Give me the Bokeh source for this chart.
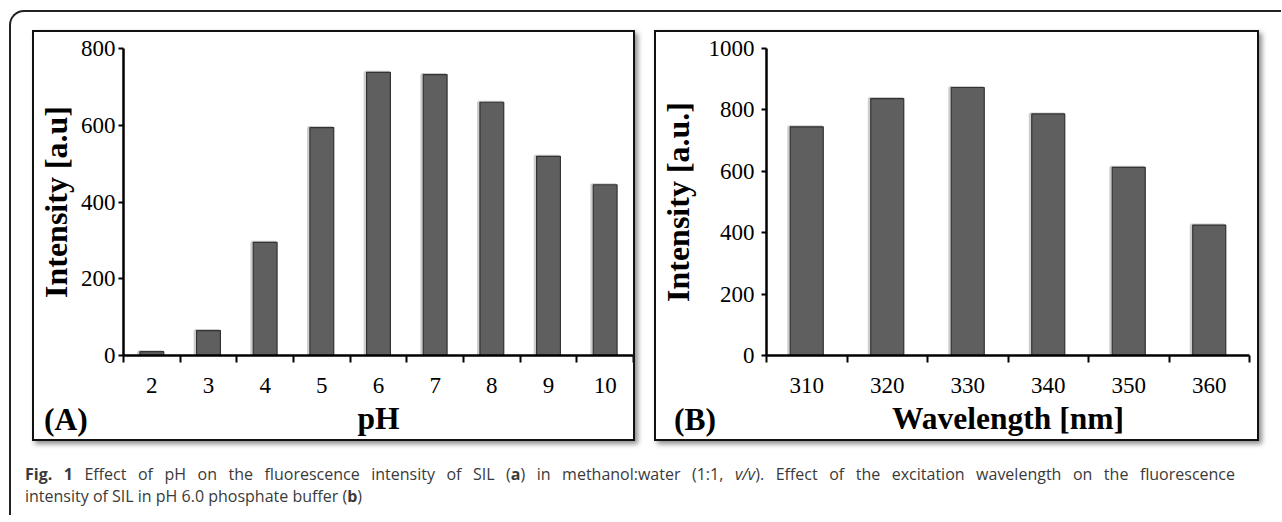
from bokeh.plotting import figure
from bokeh.models import Range1d, FixedTicker, Div, ColumnDataSource
from bokeh.transform import dodge
from bokeh.layouts import row, column
from bokeh.embed import file_html
from bokeh.resources import INLINE

# ---- data ----
ph = [2, 3, 4, 5, 6, 7, 8, 9, 10]
intensity_ph = [10, 65, 295, 594, 738, 732, 660, 519, 445]
ph_ticks = [0, 200, 400, 600, 800]

wavelength = [310, 320, 330, 340, 350, 360]
intensity_wl = [745, 837, 873, 787, 613, 425]
wl_ticks = [0, 200, 400, 600, 800, 1000]

SERIF = "Liberation Serif"
BAR_FILL = "#5f5f5f"
BAR_LINE = "#333333"
PANEL_STYLE = {"border": "2px solid #111111",
               "box-shadow": "3px 3px 5px rgba(0,0,0,0.45)"}


def style_axes(p, xticks, xminor, yticks, ylab_standoff, ytitle_standoff):
    xa = p.xaxis[0]
    xa.ticker = FixedTicker(ticks=xticks, minor_ticks=xminor)
    xa.major_tick_line_color = None
    xa.major_tick_out = 0
    xa.major_tick_in = 0
    xa.minor_tick_out = 7
    xa.minor_tick_in = 0
    xa.minor_tick_line_color = "black"
    xa.minor_tick_line_width = 2
    xa.axis_line_width = 2.5
    xa.axis_line_color = "black"
    xa.major_label_text_font = SERIF
    xa.major_label_text_font_size = "23px"
    xa.major_label_text_color = "black"
    xa.major_label_standoff = 15
    xa.axis_label_text_font = SERIF
    xa.axis_label_text_font_size = "31.5px"
    xa.axis_label_text_font_style = "bold"
    xa.axis_label_text_color = "black"
    xa.axis_label_standoff = 5

    ya = p.yaxis[0]
    ya.ticker = FixedTicker(ticks=yticks)
    ya.major_tick_out = 5
    ya.major_tick_in = 0
    ya.major_tick_line_width = 2
    ya.major_tick_line_color = "black"
    ya.minor_tick_line_color = None
    ya.axis_line_width = 2.5
    ya.axis_line_color = "black"
    ya.major_label_text_font = SERIF
    ya.major_label_text_font_size = "23px"
    ya.major_label_text_color = "black"
    ya.major_label_standoff = ylab_standoff
    ya.axis_label_text_font = SERIF
    ya.axis_label_text_font_size = "32px"
    ya.axis_label_text_font_style = "bold"
    ya.axis_label_text_color = "black"
    ya.axis_label_standoff = ytitle_standoff

    p.grid.visible = False
    p.outline_line_color = None
    p.background_fill_color = "white"
    p.border_fill_color = "white"


def bars(p, src, width, shift):
    # soft halo behind each bar, then the bar itself
    p.vbar(x=dodge("x", -shift, range=p.x_range), top="top", bottom=0, width=width,
           source=src, fill_color=None, line_color="#b8b8b8", line_width=3, line_alpha=0.7)
    p.vbar(x="x", top="top", bottom=0, width=width, source=src,
           fill_color=BAR_FILL, line_color=BAR_LINE, line_width=1.2)


# ---- panel A ----
srcA = ColumnDataSource(dict(x=ph, top=intensity_ph))
pA = figure(width=603, height=411, output_backend="svg", toolbar_location=None,
            x_range=Range1d(ph[0] - 0.5, ph[-1] + 0.5), y_range=Range1d(0, 800),
            min_border_left=84, min_border_right=4, min_border_top=16, min_border_bottom=88,
            x_axis_label="pH", y_axis_label="Intensity [a.u]", styles=PANEL_STYLE)
bars(pA, srcA, 0.42, 0.025)
style_axes(pA, ph, [v - 0.5 for v in ph] + [ph[-1] + 0.5], ph_ticks, 3, 4)

# ---- panel B ----
srcB = ColumnDataSource(dict(x=wavelength, top=intensity_wl))
pB = figure(width=605, height=411, output_backend="svg", toolbar_location=None,
            x_range=Range1d(wavelength[0] - 5, wavelength[-1] + 5), y_range=Range1d(0, 1000),
            min_border_left=107, min_border_right=12, min_border_top=15, min_border_bottom=86,
            x_axis_label="Wavelength [nm]", y_axis_label="Intensity [a.u.]", styles=PANEL_STYLE)
bars(pB, srcB, 4.1, 0.18)
style_axes(pB, wavelength, [v - 5 for v in wavelength] + [wavelength[-1] + 5], wl_ticks, 7, 10)

# ---- panel letters (absolutely positioned inside the outer frame) ----
LETTER_STYLE = {"position": "absolute", "top": "385px", "font-family": "'Liberation Serif'",
                "font-size": "31.5px", "font-weight": "bold", "line-height": "36px",
                "color": "black", "z-index": "5"}
letterA = Div(text="(A)", width=60, height=36, styles={**LETTER_STYLE, "left": "28px"})
letterB = Div(text="(B)", width=60, height=36, styles={**LETTER_STYLE, "left": "658px"})

# ---- caption ----
caption_html = ('<div style="width:1210px;text-align:justify;text-align-last:justify;">'
                '<b>Fig. 1</b> Effect of pH on the fluorescence intensity of SIL (<b>a</b>) in '
                'methanol:water (1:1, <i>v/v</i>). Effect of the excitation wavelength on the '
                'fluorescence</div>'
                '<div style="text-align:left;">intensity of SIL in pH 6.0 phosphate buffer '
                '(<b>b</b>)</div>')
caption = Div(text=caption_html, width=1256, height=52, margin=(22, 0, 0, 14),
              styles={"font-family": "'Open Sans'", "font-size": "16px", "color": "#3a3a3a",
                      "line-height": "22px"})

panels = row(pA, pB, spacing=19, margin=(18, 0, 0, 21))
root = column(panels, caption, letterA, letterB, margin=(10, 0, 0, 9),
              styles={"position": "relative",
                      "border-top": "2px solid #222222", "border-left": "2px solid #222222",
                      "border-top-left-radius": "15px", "background": "white"})

open("out.html", "w").write(file_html(root, INLINE))
